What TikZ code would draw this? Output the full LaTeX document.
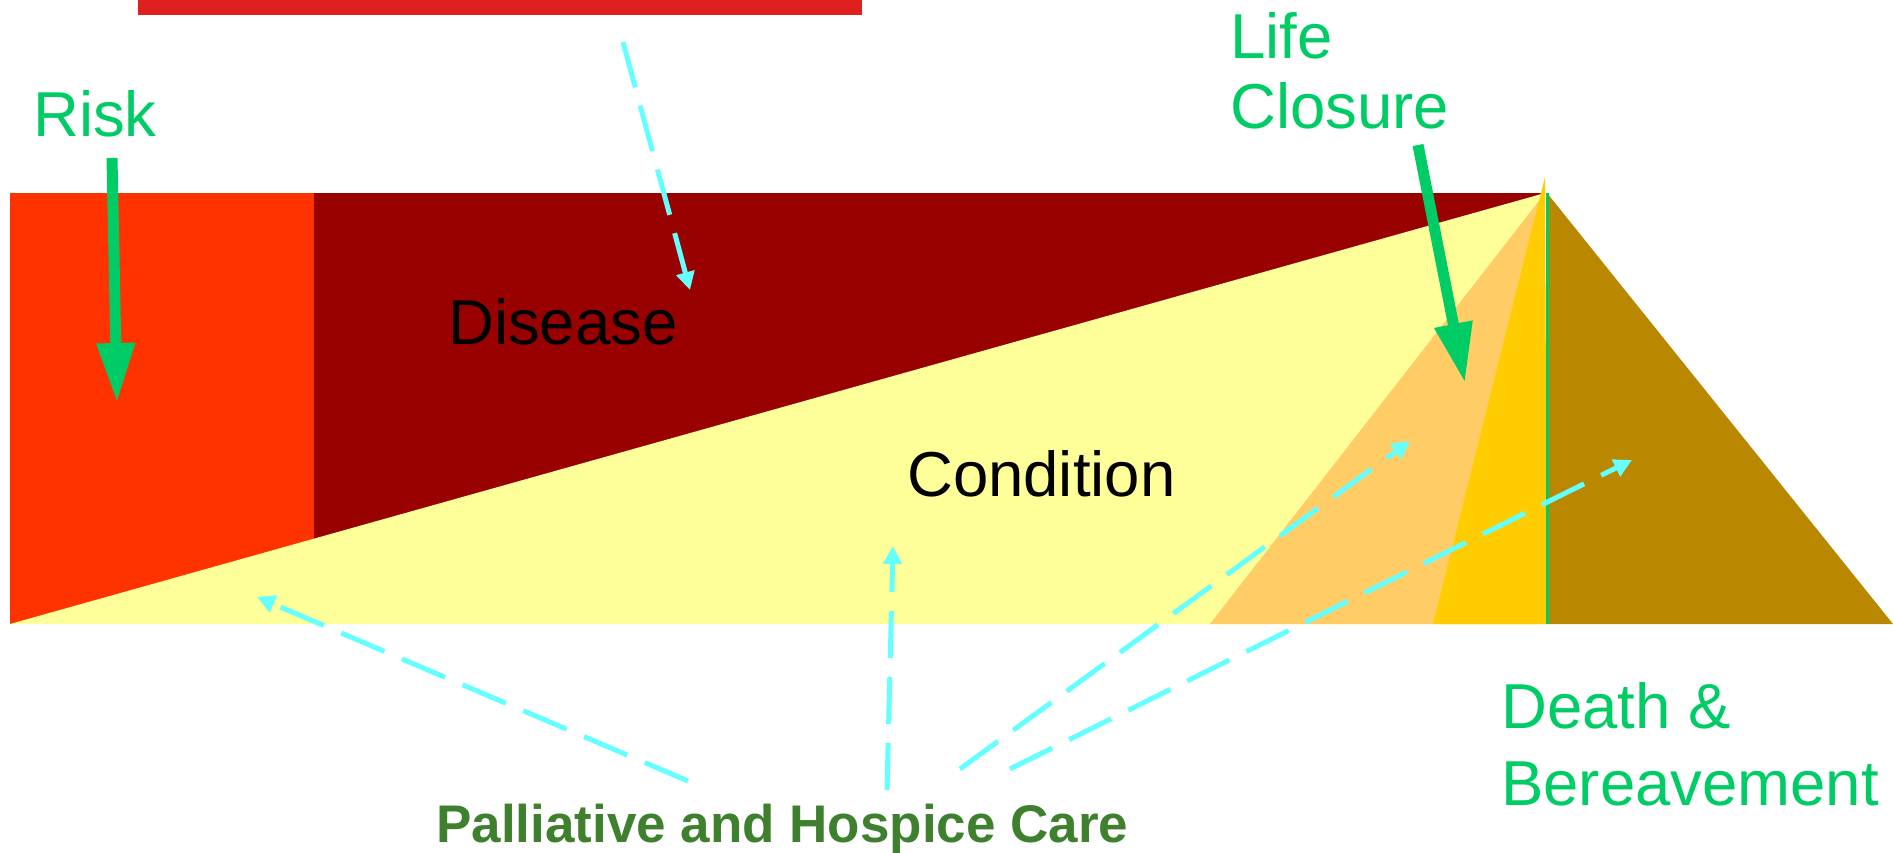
\documentclass[tikz,border=0pt]{standalone}
\usepackage{fontspec}
\setmainfont{Liberation Sans}
\usetikzlibrary{arrows.meta}
\definecolor{riskred}{RGB}{255,51,0}
\definecolor{disred}{RGB}{153,0,0}
\definecolor{condyel}{RGB}{255,255,153}
\definecolor{lorange}{RGB}{255,204,102}
\definecolor{goldc}{RGB}{255,204,0}
\definecolor{brownc}{RGB}{185,136,0}
\definecolor{topred}{RGB}{224,31,31}
\definecolor{lgreen}{RGB}{0,204,102}
\definecolor{cyanc}{RGB}{102,255,255}
\definecolor{dgreen}{RGB}{62,128,46}
\tikzset{
  greenlbl/.style={text=lgreen, inner sep=0pt, anchor=base west, align=left},
  blacklbl/.style={text=black, inner sep=0pt, anchor=base west, font=\fontsize{63.5}{70}\selectfont},
  greenarrow/.style={draw=lgreen, line width=11pt, -{Triangle[length=60pt,width=36pt]}},
  cyanarrow/.style={draw=cyanc, line width=5pt, dash pattern=on 47pt off 19pt, -{Triangle[length=18pt,width=18pt]}}
}
\begin{document}
\begin{tikzpicture}[x=1pt,y=-1pt]
\useasboundingbox (0,0) rectangle (1893,852);
% top bar
\fill[topred] (138,0) rectangle (862,15);
% main blocks
\fill[riskred] (10,193) rectangle (314,624);
\fill[disred] (314,193) rectangle (1545,624);
\fill[condyel] (10,624) -- (1545,193) -- (1545,624) -- cycle;
\fill[lorange] (1210,624) -- (1545,193) -- (1545,624) -- cycle;
\fill[goldc] (1433,624) -- (1545,177) -- (1547,624) -- cycle;
\fill[brownc] (1547,193) -- (1893,624) -- (1547,624) -- cycle;
\draw[lgreen, line width=3pt] (1547,193) -- (1547,624);
% labels (multi-line nodes: base anchor is on the last line)
\node[greenlbl, font=\fontsize{63.5}{70}\selectfont] (risk) at (33,136) {Risk};
\node[greenlbl, font=\fontsize{63.5}{70}\selectfont] (life) at (1230,128) {Life\\Closure};
\node[greenlbl, font=\fontsize{63.5}{77}\selectfont] (death) at (1501,805) {Death \&\\Bereavement};
\node[blacklbl] (disease) at (448,344) {Disease};
\node[blacklbl] (condition) at (907,496) {Condition};
\node[text=dgreen, inner sep=0pt, anchor=base west, font=\fontsize{53}{60}\selectfont\bfseries] (pal) at (436,842) {Palliative and Hospice Care};
% green arrows
\coordinate (riskS) at (112,158);
\coordinate (riskT) at (117,403);
\coordinate (lifeS) at (1418,145);
\coordinate (lifeT) at (1465,383);
\draw[greenarrow] (riskS) -- (riskT);
\draw[greenarrow] (lifeS) -- (lifeT);
% cyan arrows
\coordinate (topS) at (623,42);
\coordinate (topT) at (690,290);
\coordinate (p1S) at (688,781);
\coordinate (p1T) at (257,597);
\coordinate (p2S) at (887,790);
\coordinate (p2T) at (893,546);
\coordinate (p3S) at (960,769);
\coordinate (p3T) at (1410,441);
\coordinate (p4S) at (1010,769);
\coordinate (p4T) at (1632,460);
\draw[cyanarrow] (topS) -- (topT);
\draw[cyanarrow] (p1S) -- (p1T);
\draw[cyanarrow] (p2S) -- (p2T);
\draw[cyanarrow] (p3S) -- (p3T);
\draw[cyanarrow] (p4S) -- (p4T);
\end{tikzpicture}
\end{document}
